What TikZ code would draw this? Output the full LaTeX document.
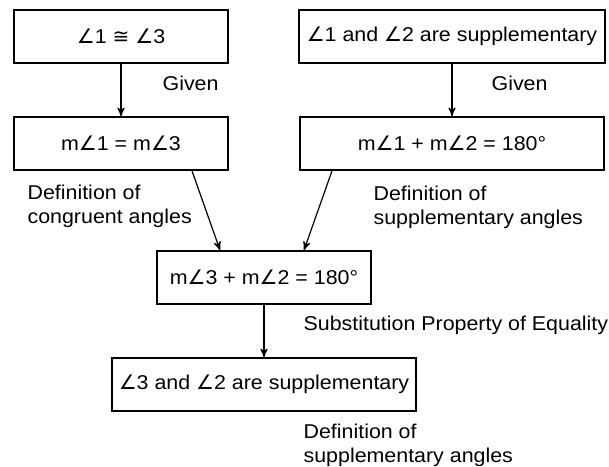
\documentclass[tikz,border=0pt]{standalone}
\usepackage{fontspec}
\setmainfont{Liberation Sans}[FakeStretch=1.07]
\newfontfamily\symfont{DejaVu Sans}
\newcommand{\ang}{{\symfont\char"2220}}
\newcommand{\congsym}{{\symfont\char"2245}}
\usetikzlibrary{arrows,positioning,calc}

\begin{document}
\begin{tikzpicture}[->, >=stealth', semithick, x=0.5pt, y=-0.5pt, node distance=53.5pt]
\tikzstyle{every node}=[font=\fontsize{10}{12}\selectfont]
\tikzstyle{stmt}=[draw=black, line width=0.85pt, minimum height=26.5pt, inner sep=0pt]
\tikzstyle{reason}=[anchor=north west, inner sep=0pt, align=left]
\useasboundingbox (0,0) rectangle (609,466);

\node[stmt, minimum width=107pt] (b1) at (121,36.5) {\ang1 \congsym\ \ang3};
\node[stmt, minimum width=153pt] (b2) [right of=b1, node distance=165.5pt] {\ang1 and \ang2 are supplementary};
\node[stmt, minimum width=107pt] (b3) [below of=b1] {m\ang1 = m\ang3};
\node[stmt, minimum width=152pt] (b4) [below of=b2] {m\ang1 + m\ang2 = 180°};
\node[stmt, minimum width=107pt] (b5) [below of=b3, node distance=67pt, xshift=71.5pt] {m\ang3 + m\ang2 = 180°};
\node[stmt, minimum width=152pt] (b6) [below of=b5] {\ang3 and \ang2 are supplementary};

% reasons
\node[reason] (g1) at (162,75) {Given};
\node[reason] (g2) at (491,75) {Given};
\node[reason] (d1) at (27,184) {Definition of\\congruent angles};
\node[reason] (d2) at (373,185) {Definition of\\supplementary angles};
\node[reason] (sp) at (303,315) {Substitution Property of Equality};
\node[reason] (d3) at (303,423) {Definition of\\supplementary angles};

\path
(b1) edge (b3)
(b2) edge (b4)
(b5) edge (b6);
\draw ([xshift=35.5pt]b3.south) -- ([xshift=-22pt]b5.north);
\draw ([xshift=-60pt]b4.south) -- ([xshift=20pt]b5.north);

\end{tikzpicture}
\end{document}
